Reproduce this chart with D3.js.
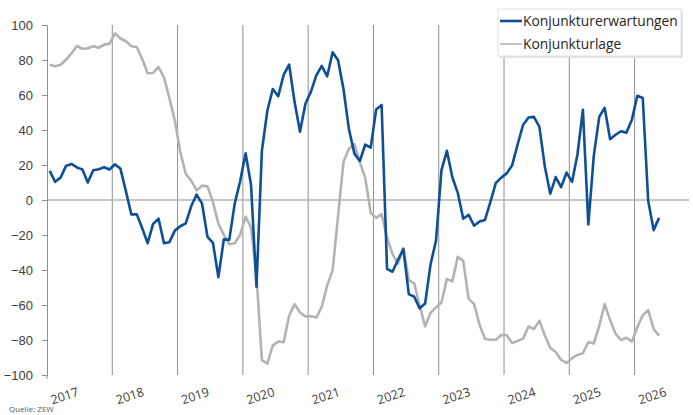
<!DOCTYPE html>
<html>
<head>
<meta charset="utf-8">
<script src="https://cdn.jsdelivr.net/npm/d3@7"></script>
<style>
  body { margin: 0; background: #fff; }
  svg { display: block; font-family: "Open Sans", "Noto Sans", sans-serif; }
</style>
</head>
<body>
<svg id="chart" width="693" height="415"></svg>
<script>
// ZEW monthly values, Jan 2017 .. May 2026
const years = ["2017", "2018", "2019", "2020", "2021", "2022", "2023", "2024", "2025", "2026"];
const yTicks = [-100, -80, -60, -40, -20, 0, 20, 40, 60, 80, 100];

const erwartungen = [
  16.6, 10.4, 12.8, 19.5, 20.6, 18.6, 17.5, 10.0, 17.0, 17.6, 18.7, 17.4,
  20.4, 17.8, 5.1, -8.2, -8.2, -16.1, -24.7, -13.7, -10.6, -24.7, -24.1, -17.5,
  -15.0, -13.4, -3.6, 3.1, -2.1, -21.1, -24.5, -44.1, -22.5, -22.8, -2.1, 10.7,
  26.7, 8.7, -49.5, 28.2, 51.0, 63.4, 59.3, 71.5, 77.4, 56.1, 39.0, 55.0,
  61.8, 71.2, 76.6, 70.7, 84.4, 79.8, 63.3, 40.4, 26.5, 22.3, 31.7, 29.9,
  51.7, 54.3, -39.3, -41.0, -34.3, -28.0, -53.8, -55.3, -61.9, -59.2, -36.7, -23.3,
  16.9, 28.1, 13.0, 4.1, -10.7, -8.5, -14.7, -12.3, -11.4, -1.1, 9.8, 12.8,
  15.2, 19.9, 31.7, 42.9, 47.1, 47.5, 41.8, 19.2, 3.6, 13.1, 7.4, 15.7,
  10.3, 26.0, 51.6, -14.0, 25.2, 47.5, 52.7, 34.7, 37.3, 39.3, 38.5, 45.8,
  59.6, 58.3, -0.5, -17.2, -10.2
];

const lage = [
  77.3, 76.4, 77.3, 80.1, 83.9, 88.0, 86.4, 86.7, 87.9, 87.0, 88.8, 89.3,
  95.2, 92.3, 90.7, 87.9, 87.4, 80.6, 72.4, 72.6, 76.0, 70.1, 58.2, 45.3,
  27.6, 15.0, 11.1, 5.5, 8.2, 7.8, -1.1, -13.5, -19.9, -25.3, -24.7, -19.9,
  -9.5, -15.7, -43.1, -91.5, -93.5, -83.1, -80.9, -81.3, -66.2, -59.5, -64.3, -66.5,
  -66.4, -67.2, -61.0, -48.8, -40.1, -9.1, 21.9, 29.3, 31.9, 21.6, 12.5, -7.4,
  -10.2, -8.1, -21.4, -30.8, -36.5, -27.6, -45.8, -47.6, -60.5, -72.2, -64.5, -61.4,
  -58.6, -45.1, -46.5, -32.5, -34.8, -56.5, -59.5, -71.3, -79.4, -79.9, -79.8, -77.1,
  -77.3, -81.7, -80.5, -79.2, -72.3, -73.8, -68.9, -77.3, -84.5, -86.9, -91.4, -93.1,
  -90.4, -88.5, -87.6, -81.2, -82.0, -72.0, -59.5, -68.6, -76.4, -80.0, -78.7, -81.0,
  -72.7, -65.9, -62.9, -73.7, -77.5
];

const seriesNames = ["Konjunkturerwartungen", "Konjunkturlage"];
const seriesColors = ["#0e4f97", "#b3b3b3"];

const svg = d3.select("#chart");
const plotLeft = 47, plotRight = 689, plotTop = 25, plotBottom = 375;
const nMonths = 118;

const x = d3.scaleLinear().domain([-0.5, nMonths - 0.5]).range([plotLeft, plotRight]);
const y = d3.scaleLinear().domain([-100, 100]).range([plotBottom, plotTop]);

// year gridlines
svg.append("g").selectAll("line")
  .data(years.slice(1))
  .enter().append("line")
  .attr("x1", (d, i) => x(12 * (i + 1) - 0.5))
  .attr("x2", (d, i) => x(12 * (i + 1) - 0.5))
  .attr("y1", plotTop).attr("y2", plotBottom)
  .attr("stroke", "#8f8f8f").attr("stroke-width", 1);

// zero line
svg.append("line")
  .attr("x1", plotLeft).attr("x2", plotRight)
  .attr("y1", y(0)).attr("y2", y(0))
  .attr("stroke", "#b5b5b5").attr("stroke-width", 1.5);

// y axis
const yAxis = svg.append("g")
  .attr("transform", "translate(" + plotLeft + ",0)")
  .call(d3.axisLeft(y).tickValues(yTicks).tickSize(5).tickPadding(9));
yAxis.select(".domain").attr("stroke", "#8f8f8f");
yAxis.selectAll(".tick line").attr("stroke", "#8f8f8f");
yAxis.selectAll(".tick text")
  .style("font-size", "13px").attr("fill", "#404040")
  .attr("dy", "0.36em");

// small tick at bottom-left
svg.append("line")
  .attr("x1", plotLeft).attr("x2", plotLeft)
  .attr("y1", plotBottom).attr("y2", plotBottom + 4)
  .attr("stroke", "#8f8f8f");

// year labels
svg.append("g").selectAll("text")
  .data(years)
  .enter().append("text")
  .attr("transform", (d, i) => "translate(" + (x(12 * i - 0.5) + 19) + "," + 400 + ") rotate(-18)")
  .attr("text-anchor", "middle")
  .style("font-size", "12.5px")
  .attr("fill", "#404040")
  .text(d => d);

// lines
const line = d3.line()
  .x((d, i) => x(i))
  .y(d => y(d));

svg.append("path")
  .datum(lage)
  .attr("d", line)
  .attr("fill", "none")
  .attr("stroke", seriesColors[1])
  .attr("stroke-width", 2.6)
  .attr("stroke-linejoin", "round");

svg.append("path")
  .datum(erwartungen)
  .attr("d", line)
  .attr("fill", "none")
  .attr("stroke", seriesColors[0])
  .attr("stroke-width", 2.6)
  .attr("stroke-linejoin", "round");

// legend
const lg = svg.append("g");
lg.append("rect")
  .attr("x", 500).attr("y", 11).attr("width", 183).attr("height", 47)
  .attr("fill", "#e3e3e3");
lg.append("rect")
  .attr("x", 498).attr("y", 9).attr("width", 183).attr("height", 47)
  .attr("fill", "#fff").attr("stroke", "#e0e0e0");
seriesNames.forEach((name, i) => {
  const yy = 21 + i * 23;
  lg.append("line")
    .attr("x1", 500).attr("x2", 522)
    .attr("y1", yy).attr("y2", yy)
    .attr("stroke", seriesColors[i])
    .attr("stroke-width", i === 0 ? 2.6 : 1.6);
  lg.append("text")
    .attr("x", 523).attr("y", yy + 5)
    .style("font-size", "13.8px")
    .attr("fill", "#262626")
    .text(name);
});

// source
svg.append("text")
  .attr("x", 9).attr("y", 412)
  .style("font-size", "8px")
  .attr("fill", "#595959")
  .text("Quelle: ZEW");
</script>
</body>
</html>
